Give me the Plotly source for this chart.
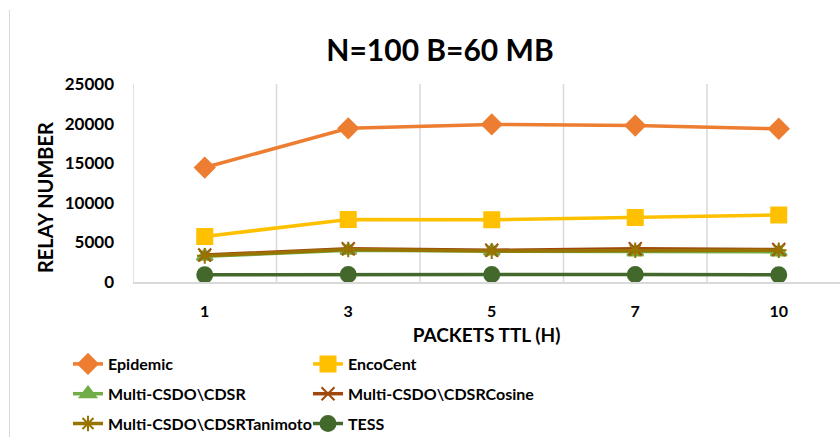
import plotly.graph_objects as go

# Packet TTL values (hours) used as categories
ttl = ["1", "3", "5", "7", "10"]

# Relay counts per routing scheme
epidemic = [14450, 19400, 19900, 19750, 19350]
encocent = [5750, 7900, 7850, 8150, 8450]
cdsr = [3250, 4000, 3900, 3800, 3800]
cdsr_cosine = [3400, 4200, 4000, 4200, 4100]
cdsr_tanimoto = [3300, 4100, 3900, 4000, 4000]
tess = [900, 950, 950, 950, 900]

y_ticks = [0, 5000, 10000, 15000, 20000, 25000]

FONT = "Lato"

series = [
    ("Epidemic", epidemic, "#ED7D31", "diamond", 15, "legend"),
    ("EncoCent", encocent, "#FFC000", "square", 15, "legend2"),
    ("Multi-CSDO\\CDSR", cdsr, "#70AD47", "triangle-up", 14, "legend"),
    ("Multi-CSDO\\CDSRCosine", cdsr_cosine, "#9E480E", "x-thin", 13, "legend2"),
    ("Multi-CSDO\\CDSRTanimoto", cdsr_tanimoto, "#997300", "asterisk", 13, "legend"),
    ("TESS", tess, "#43682B", "circle", 15, "legend2"),
]

fig = go.Figure()
for name, vals, color, symbol, size, leg in series:
    fig.add_trace(go.Scatter(
        x=ttl, y=vals, name=name, mode="lines+markers",
        line=dict(color=color, width=3.5),
        marker=dict(symbol=symbol, size=size, color=color,
                    line=dict(color=color, width=2)),
        legend=leg, legendgroup=name,
    ))

# plot area: left edge at 133px, one category = 143.5px
left, right_w = 133, 840
top, plot_h = 84, 198
cat_px = 143.5
x_hi = -0.5 + (right_w - left) / cat_px
plot_w = right_w - left

legend_common = dict(
    orientation="v", xanchor="left", yanchor="top",
    font=dict(family=FONT, size=16, color="#000000", weight="bold"),
    bgcolor="rgba(0,0,0,0)", tracegroupgap=6, traceorder="grouped",
    itemwidth=30,
)
legend_top = -(347 - (top + plot_h)) / plot_h

fig.update_layout(
    width=840, height=437,
    margin=dict(l=left, r=0, t=top, b=437 - top - plot_h, autoexpand=False),
    paper_bgcolor="white", plot_bgcolor="white",
    title=dict(text="<b>N=100 B=60 MB</b>", x=440 / 840, xanchor="center",
               y=1 - 50 / 437, yanchor="middle",
               font=dict(family=FONT, size=30, color="#000000")),
    xaxis=dict(
        type="category", range=[-0.5, x_hi],
        showgrid=False, showline=True, linecolor="#d9d9d9", linewidth=1.5,
        tickfont=dict(family=FONT, size=16, color="#000000", weight="bold"),
        ticks="", ticklabelstandoff=14,
        title=dict(text="<b>PACKETS TTL (H)</b>",
                   font=dict(family=FONT, size=19, color="#000000"),
                   standoff=10),
    ),
    yaxis=dict(
        range=[0, 25000], tickvals=y_ticks, ticktext=[str(v) for v in y_ticks],
        showgrid=False, zeroline=False, showline=False,
        tickfont=dict(family=FONT, size=17, color="#000000", weight="bold"),
        ticks="", ticklabelstandoff=18,
    ),
    legend=dict(x=(68 - left) / plot_w, y=legend_top, **legend_common),
    legend2=dict(x=(308 - left) / plot_w, y=legend_top, **legend_common),
    showlegend=True,
)

# y-axis title, placed beside the tick labels
fig.add_annotation(
    text="<b>RELAY NUMBER</b>", textangle=-90, showarrow=False,
    xref="paper", yref="paper",
    x=(45 - left) / plot_w, y=1 - (198 - top) / plot_h,
    xanchor="center", yanchor="middle",
    font=dict(family=FONT, size=20, color="#000000"),
)

# vertical category separators between the TTL groups
shapes = []
for i in range(len(ttl)):
    xb = i - 0.5
    shapes.append(dict(type="line", xref="x", yref="paper",
                       x0=xb, x1=xb, y0=0, y1=1,
                       line=dict(color="#d9d9d9", width=1.5), layer="below"))
# chart-area frame line on the left
shapes.append(dict(type="line", xref="paper", yref="paper",
                   x0=(9.5 - left) / plot_w, x1=(9.5 - left) / plot_w,
                   y0=-(437 - top - plot_h) / plot_h, y1=1 + (top - 10) / plot_h,
                   line=dict(color="#d9d9d9", width=1)))
fig.update_layout(shapes=shapes)

fig.write_html("out.html")
